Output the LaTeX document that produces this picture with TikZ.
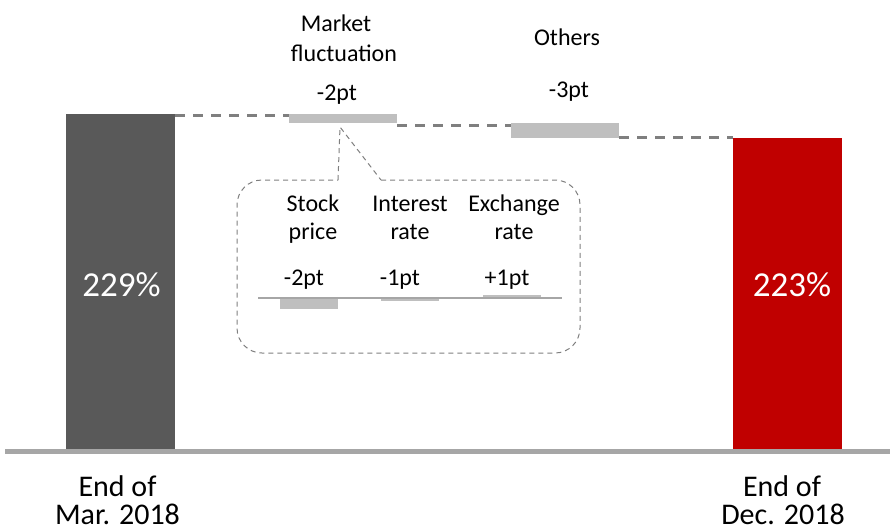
\documentclass[tikz,border=0pt]{standalone}
\usepackage{fontspec}
\setmainfont{Carlito}
\definecolor{darkbar}{HTML}{595959}
\definecolor{redbar}{HTML}{C00000}
\definecolor{lightbar}{HTML}{BFBFBF}
\definecolor{dashgray}{HTML}{7F7F7F}
\definecolor{axisgray}{HTML}{A6A6A6}
\tikzset{
  barbox/.style={draw=none, inner sep=0pt, outer sep=0pt, anchor=north west},
  lbl/.style={inner sep=0pt, anchor=base, font=\fontsize{24}{30}\selectfont},
  biglbl/.style={inner sep=0pt, anchor=base, font=\fontsize{30}{30}\selectfont},
  pctlbl/.style={inner sep=0pt, anchor=base, text=white, font=\fontsize{35}{35}\selectfont},
  link/.style={draw=dashgray, line width=3pt, dash pattern=on 10pt off 8pt},
  callout/.style={draw=dashgray, line width=1pt, dash pattern=on 5pt off 4pt},
}
\begin{document}
\begin{tikzpicture}[x=1pt, y=-1pt]
\useasboundingbox (0,0) rectangle (890,530);
% main bars
\node[barbox, fill=darkbar, minimum width=109pt, minimum height=336pt] (start) at (66,114) {};
\node[barbox, fill=redbar, minimum width=109pt, minimum height=312pt] (finish) at (733,138) {};
\node[barbox, fill=lightbar, minimum width=108pt, minimum height=9pt] (market) at (289,114) {};
\node[barbox, fill=lightbar, minimum width=108pt, minimum height=15pt] (others) at (511,123) {};
% baseline
\coordinate (axL) at (5,451.5);
\coordinate (axR) at (890,451.5);
\draw[draw=axisgray, line width=5pt] (axL) -- (axR);
% dashed links
\draw[link] ([yshift=-1pt]start.north east) -- ([yshift=-1pt]market.north west);
\draw[link] ([yshift=-2pt]market.south east) -- ([yshift=-2pt]others.north west);
\draw[link] ([yshift=1pt]others.south east) -- ([yshift=1pt]finish.north west);
% percentages
\node[pctlbl] (p1) at (121.5,296) {229\%};
\node[pctlbl] (p2) at (792,296) {223\%};
% top labels
\node[lbl] (mk1) at (336,31) {Market};
\node[lbl] (mk2) at (344,61) {fluctuation};
\node[lbl] (mk3) at (337,100) {-2pt};
\node[lbl] (ot1) at (567,45) {Others};
\node[lbl] (ot2) at (569,97) {-3pt};
% callout
\coordinate (apex) at (340,127);
\coordinate (ptL) at (338,180);
\coordinate (ptR) at (381,180);
\draw[callout, rounded corners=25pt] (ptR) -- (580,180) -- (580,353) -- (237,353) -- (237,180) -- (ptL);
\draw[callout] (ptL) -- (apex) -- (ptR);
% inner chart
\coordinate (inL) at (258,298);
\coordinate (inR) at (562,298);
\node[barbox, fill=lightbar, minimum width=58pt, minimum height=11pt] (stock) at (280,298) {};
\node[barbox, fill=lightbar, minimum width=58pt, minimum height=3pt] (interest) at (381,298) {};
\node[barbox, fill=lightbar, minimum width=58pt, minimum height=3pt] (exchange) at (483,295) {};
\draw[draw=axisgray, line width=1.2pt] (inL) -- (inR);
\node[lbl] (s1) at (313,211) {Stock};
\node[lbl] (s2) at (313,239) {price};
\node[lbl] (s3) at (304,285) {-2pt};
\node[lbl] (i1) at (410,211) {Interest};
\node[lbl] (i2) at (410,239) {rate};
\node[lbl] (i3) at (400,285) {-1pt};
\node[lbl] (e1) at (514,211) {Exchange};
\node[lbl] (e2) at (514,239) {rate};
\node[lbl] (e3) at (507,285) {+1pt};
% bottom labels
\node[biglbl] (l1) at (117.5,496) {End of};
\node[biglbl] (l2) at (117.5,524) {Mar. 2018};
\node[biglbl] (r1) at (782,496) {End of};
\node[biglbl] (r2) at (783,524) {Dec. 2018};
\end{tikzpicture}
\end{document}
